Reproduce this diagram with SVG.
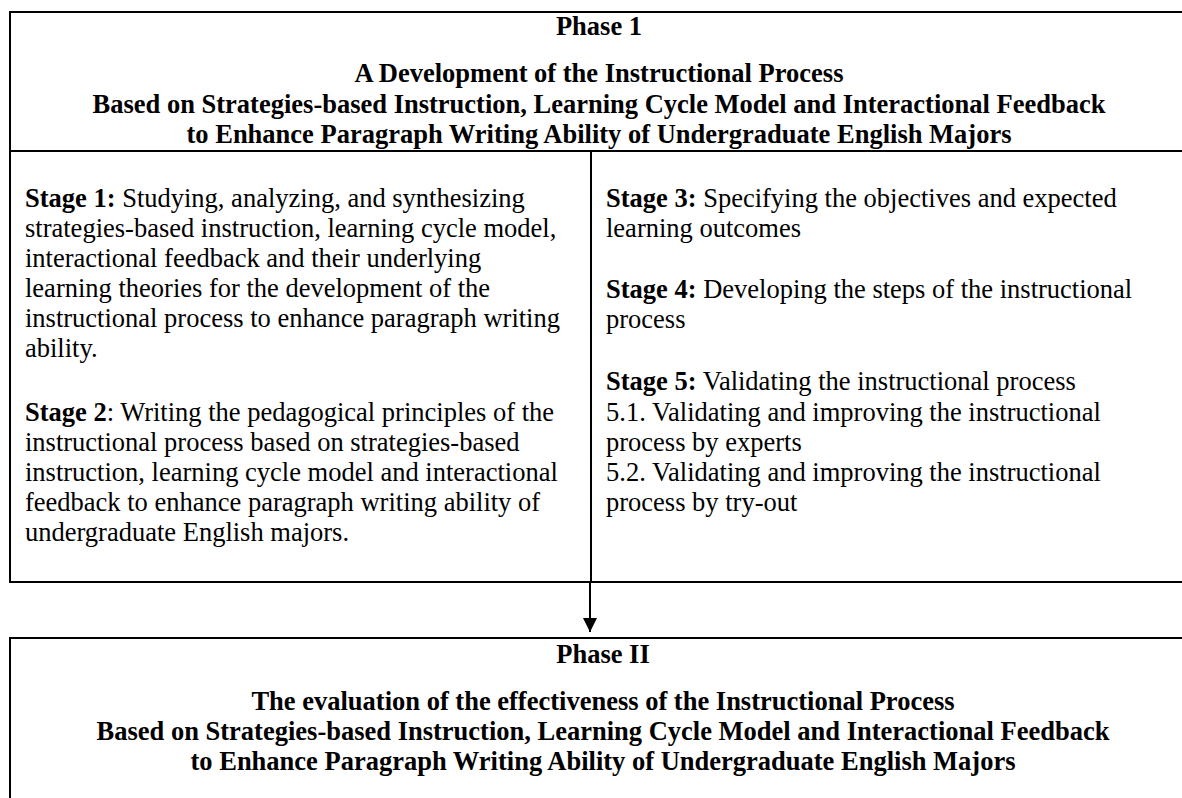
<svg xmlns="http://www.w3.org/2000/svg" width="1182" height="798" viewBox="0 0 1182 798">
  <style>
    .frame { fill: none; stroke: #000; stroke-width: 2; }
    .rule { stroke: #000; stroke-width: 2; }
    .head { font-family: "Liberation Serif", "Times New Roman", serif; font-size: 26.5px; font-weight: bold; fill: #000; text-anchor: middle; }
    .body { font-family: "Liberation Serif", "Times New Roman", serif; font-size: 26.5px; fill: #000; }
    .b { font-weight: bold; }
  </style>
  <defs>
    <marker id="arrowhead" markerUnits="userSpaceOnUse" markerWidth="16" markerHeight="16" refX="14" refY="7" orient="auto">
      <path d="M0,0 L14,7 L0,14 Z" fill="#000"/>
    </marker>
  </defs>
  <rect width="1182" height="798" fill="#fff"/>

  <!-- Phase 1: development of the instructional process -->
  <g id="phase1">
    <rect class="frame" x="10" y="12" width="1190" height="570"/>
    <line class="rule" x1="10" y1="151" x2="1182" y2="151"/>
    <line class="rule" x1="591" y1="151" x2="591" y2="582"/>
    <text class="head" x="599" y="35">Phase 1</text>
    <text class="head" x="599" y="82">A Development of the Instructional Process</text>
    <text class="head" x="599" y="113">Based on Strategies-based Instruction, Learning Cycle Model and Interactional Feedback</text>
    <text class="head" x="599" y="143">to Enhance Paragraph Writing Ability of Undergraduate English Majors</text>
  </g>

  <!-- Stages 1 and 2 -->
  <g id="stages-left">
    <text class="body" x="25" y="207"><tspan class="b">Stage 1:</tspan> Studying, analyzing, and synthesizing</text>
    <text class="body" x="25" y="237">strategies-based instruction, learning cycle model,</text>
    <text class="body" x="25" y="267">interactional feedback and their underlying</text>
    <text class="body" x="25" y="297">learning theories for the development of the</text>
    <text class="body" x="25" y="327">instructional process to enhance paragraph writing</text>
    <text class="body" x="25" y="357">ability.</text>
    <text class="body" x="25" y="421"><tspan class="b">Stage 2</tspan>: Writing the pedagogical principles of the</text>
    <text class="body" x="25" y="451">instructional process based on strategies-based</text>
    <text class="body" x="25" y="481">instruction, learning cycle model and interactional</text>
    <text class="body" x="25" y="511">feedback to enhance paragraph writing ability of</text>
    <text class="body" x="25" y="541">undergraduate English majors.</text>
  </g>

  <!-- Stages 3 to 5 -->
  <g id="stages-right">
    <text class="body" x="606" y="207"><tspan class="b">Stage 3:</tspan> Specifying the objectives and expected</text>
    <text class="body" x="606" y="237">learning outcomes</text>
    <text class="body" x="606" y="298"><tspan class="b">Stage 4:</tspan> Developing the steps of the instructional</text>
    <text class="body" x="606" y="328">process</text>
    <text class="body" x="606" y="390"><tspan class="b">Stage 5:</tspan> Validating the instructional process</text>
    <text class="body" x="606" y="421">5.1. Validating and improving the instructional</text>
    <text class="body" x="606" y="451">process by experts</text>
    <text class="body" x="606" y="481">5.2. Validating and improving the instructional</text>
    <text class="body" x="606" y="511">process by try-out</text>
  </g>

  <!-- Phase II: evaluation -->
  <g id="phase2">
    <rect class="frame" x="10" y="638" width="1190" height="200"/>
    <text class="head" x="603" y="663">Phase II</text>
    <text class="head" x="603" y="710">The evaluation of the effectiveness of the Instructional Process</text>
    <text class="head" x="603" y="740">Based on Strategies-based Instruction, Learning Cycle Model and Interactional Feedback</text>
    <text class="head" x="603" y="770">to Enhance Paragraph Writing Ability of Undergraduate English Majors</text>
  </g>

  <!-- connectors -->
  <g id="connectors">
    <line class="rule" x1="590" y1="582" x2="590" y2="632" marker-end="url(#arrowhead)"/>
  </g>
</svg>
